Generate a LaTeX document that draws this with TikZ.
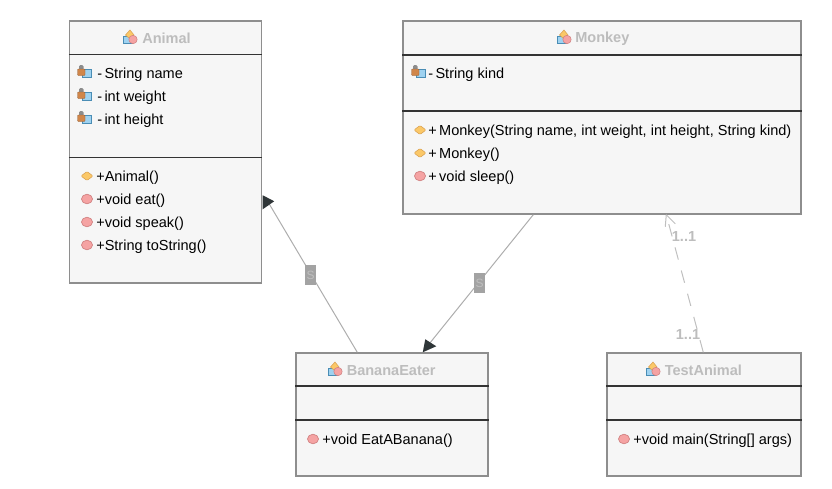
\documentclass[tikz,border=0pt]{standalone}
\usepackage{fontspec}
\setmainfont{Liberation Sans}
\definecolor{boxfill}{HTML}{F6F6F6}
\definecolor{boxline}{HTML}{8E8E8E}
\definecolor{conn}{HTML}{ADADAD}
\definecolor{tip}{HTML}{2F3638}
\definecolor{titlec}{HTML}{BDBDBD}
\definecolor{tagc}{HTML}{A3A3A3}
\definecolor{pinkc}{HTML}{F5A3A3}
\definecolor{pinkd}{HTML}{D08080}
\definecolor{orangec}{HTML}{FBC868}
\definecolor{oranged}{HTML}{D9A050}
\definecolor{bluec}{HTML}{9FD2F0}
\definecolor{blued}{HTML}{4A8DB5}
\definecolor{brownc}{HTML}{D0864A}
\tikzset{
  x=0.75pt,y=-0.75pt,
  umlbox/.style={draw=boxline,fill=boxfill,line width=1.1pt,rectangle,inner sep=0pt,minimum width=#1},
  umltitle/.style={font=\fontsize{10.9}{12}\selectfont\bfseries,text=titlec,anchor=west,inner sep=0pt},
  member/.style={font=\fontsize{10.9}{12}\selectfont,text=black,anchor=west,inner sep=0pt},
  sep/.style={draw=black!80,line width=0.8pt},
  conline/.style={draw=conn,line width=0.75pt},
  dashline/.style={draw=black!25,line width=0.75pt,dash pattern=on 9.5pt off 8.5pt},
  tipfill/.style={fill=tip,draw=none},
  tag/.style={fill=tagc,text=black!25,font=\fontsize{9}{9}\selectfont,inner sep=0pt,minimum width=8.25pt,minimum height=15pt},
  mult/.style={text=titlec,font=\fontsize{10.9}{12}\selectfont\bfseries,inner sep=0pt},
  fieldicon/.pic={
    \fill[bluec,draw=blued,line width=0.4pt] (-2,-2.5) rectangle (7,5.5);
    \fill[black!45,rounded corners=1pt] (-5,-7) rectangle (-0.5,-1);
    \fill[brownc,draw=brownc!70!black,line width=0.3pt,rounded corners=0.6pt] (-6.5,-3) rectangle (1,3.5);
  },
  methodicon/.pic={
    \fill[pinkc,draw=pinkd,line width=0.5pt] (0,0) circle[x radius=5.5,y radius=4.8];
  },
  ctoricon/.pic={
    \fill[orangec,draw=oranged,line width=0.4pt,rounded corners=0.8pt] (-6,0) -- (0,-4.5) -- (6,0) -- (0,4.5) -- cycle;
  },
  classicon/.pic={
    \fill[bluec,draw=blued,line width=0.4pt] (-7,-1) rectangle (2,6.5);
    \fill[orangec,draw=oranged,line width=0.4pt] (-4.5,-2) -- (0,-7) -- (4,-2) -- (0,2) -- cycle;
    \fill[pinkc,draw=pinkd,line width=0.4pt] (3,2.5) circle[radius=4.2];
  }
}
\begin{document}
\begin{tikzpicture}
\useasboundingbox (0,0) rectangle (832,489);

% Boxes
\node[umlbox=144pt,minimum height=196.5pt] (animal) at (165.5,152) {};
\node[umlbox=298.5pt,minimum height=144.75pt] (monkey) at (602,117.5) {};
\node[umlbox=144pt,minimum height=92.25pt] (eater) at (392,414.5) {};
\node[umlbox=145.5pt,minimum height=92.25pt] (test) at (704,414.5) {};

% Separators
\draw[sep] (animal.west |- 0,54.5) -- (animal.east |- 0,54.5);
\draw[sep] (animal.west |- 0,157.5) -- (animal.east |- 0,157.5);
\draw[sep] (monkey.west |- 0,55) -- (monkey.east |- 0,55);
\draw[sep] (monkey.west |- 0,111) -- (monkey.east |- 0,111);
\draw[sep] (eater.west |- 0,386) -- (eater.east |- 0,386);
\draw[sep] (eater.west |- 0,420) -- (eater.east |- 0,420);
\draw[sep] (test.west |- 0,386) -- (test.east |- 0,386);
\draw[sep] (test.west |- 0,420) -- (test.east |- 0,420);

% Titles
\pic at (130,37) {classicon};
\node[umltitle] (tanimal) at (142,38.5) {Animal};
\pic at (564,37) {classicon};
\node[umltitle] (tmonkey) at (575,38.5) {Monkey};
\pic at (335,369) {classicon};
\node[umltitle] (teater) at (346.5,370.5) {BananaEater};
\pic at (653,369) {classicon};
\node[umltitle] (ttest) at (664.5,370.5) {TestAnimal};

% Animal members
\pic at (84,72) {fieldicon};
\node[member] (af1) at (97,74.5) {-\,String name};
\pic at (84,95) {fieldicon};
\node[member] (af2) at (97,97.5) {-\,int weight};
\pic at (84,118) {fieldicon};
\node[member] (af3) at (97,120.5) {-\,int height};
\pic at (87,176) {ctoricon};
\node[member] (am1) at (96,177.5) {+Animal()};
\pic at (87,199) {methodicon};
\node[member] (am2) at (96,200.5) {+void eat()};
\pic at (87,222) {methodicon};
\node[member] (am3) at (96,223.5) {+void speak()};
\pic at (87,245) {methodicon};
\node[member] (am4) at (96,246.5) {+String toString()};

% Monkey members
\pic at (418,72) {fieldicon};
\node[member] (mf1) at (428,74.5) {-\,String kind};
\pic at (420,130) {ctoricon};
\node[member] (mm1) at (428,131.5) {+\,Monkey(String name, int weight, int height, String kind)};
\pic at (420,153) {ctoricon};
\node[member] (mm2) at (428,154.5) {+\,Monkey()};
\pic at (420,176) {methodicon};
\node[member] (mm3) at (428,177.5) {+\,void sleep()};

% Other members
\pic at (313,439) {methodicon};
\node[member] (em1) at (322,440.5) {+void EatABanana()};
\pic at (624,439) {methodicon};
\node[member] (tm1) at (633,440.5) {+void main(String[] args)};

% Connectors
\draw[conline] ([shift={(62,0)}]eater.north west) -- ([shift={(6,182)}]animal.north east);
\draw[conline] ([shift={(131,0)}]monkey.south west) -- ([shift={(132,-6)}]eater.north west);
\draw[dashline] ([shift={(97,0)}]test.north west) -- ([shift={(264,0)}]monkey.south west);
\draw[draw=black!25,line width=0.75pt] ([shift={(264,0)}]monkey.south west) -- +(-1,12);
\draw[draw=black!25,line width=0.75pt] ([shift={(264,0)}]monkey.south west) -- +(9,9);

% Arrow tips
\fill[tipfill] ([shift={(0.5,175)}]animal.north east) -- ([shift={(12,181)}]animal.north east) -- ([shift={(0.5,189)}]animal.north east) -- cycle;
\fill[tipfill] ([shift={(130,-13)}]eater.north west) -- ([shift={(141,-6)}]eater.north west) -- ([shift={(127.5,0)}]eater.north west) -- cycle;

% Tags
\node[tag] (tag1) at (310.5,275) {S};
\node[tag] (tag2) at (479.5,283) {S};

% Multiplicities
\node[mult] (m1) at (684,236.5) {1..1};
\node[mult] (m2) at (688,334.5) {1..1};
\end{tikzpicture}
\end{document}
